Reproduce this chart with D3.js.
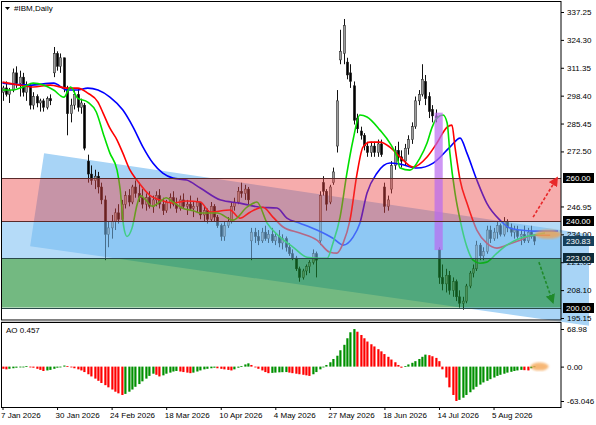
<!DOCTYPE html>
<meta charset="utf-8">
<script src="https://cdnjs.cloudflare.com/ajax/libs/d3/7.8.5/d3.min.js"></script>
<style>
  body { margin: 0; background: #fff; }
  text { font-family: "Liberation Sans", Arial, sans-serif; font-size: 8px; fill: #000; }
</style>
<div id="chart"></div>
<script>
// ---- data (bar index = trading day from 7 Jan 2026) ----
var open = [300,302,299,301,309,304,307,300,303,294, 298,295,296,293,297,309,318,312,316,302,
  290,294,299,293,294,268,262,259,261,256, 250,234,237,240,244,241,248,252,249,256,
  253,251,248,251,247,250,252,248,245,249, 251,248,246,250,247,248,246,247,249,243,
  245,241,247,242,238,233,238,240,247,249, 254,253,255,231,235,233,231,235,232,234,
  231,233,230,232,228,225,223,218,214,217, 219,221,225,231,258,254,249,258,275,315,
  318,314,309,303,288,282,280,275,272,275, 272,276,256,247,255,266,273,270,268,274,
  278,284,296,299,305,298,292,289,227,214, 211,215,208,212,205,202,203,210,216,218,
  229,224,226,236,232,235,238,234,240,237, 235,236,233,234,231,235,233];
var high = [303,305,302,311,312,310,309,305,304,300, 299,297,297,298,299,321,319,318,316,303,
  297,301,302,297,295,271,266,264,263,258, 252,240,243,246,248,250,254,255,257,259,
  258,255,253,254,252,254,255,251,250,253, 254,251,252,253,250,252,249,251,249,247,
  246,249,248,243,239,240,242,249,251,256, 258,257,256,237,237,236,237,238,236,237,
  235,236,234,233,230,227,224,219,218,220, 222,227,226,254,261,255,257,265,301,329,
  334,316,313,305,290,284,281,277,277,277, 278,278,258,252,268,275,277,273,276,280,
  286,298,301,313,308,300,294,292,228,220, 218,217,214,213,208,205,211,217,220,231,
  230,228,238,238,237,240,239,242,241,239, 238,238,236,238,237,238,234];
var low = [296,298,295,300,302,298,298,296,292,292, 293,291,291,292,294,307,310,309,300,280,
  286,292,291,290,273,258,257,255,253,248, 222,228,232,236,239,240,246,247,248,251,
  249,246,245,246,244,247,246,243,244,246, 247,244,245,246,243,245,242,244,241,240,
  239,240,240,237,231,231,237,239,245,248, 251,250,248,222,230,229,230,231,230,230,
  229,228,227,226,224,222,217,212,213,215, 216,220,214,229,252,245,248,257,272,313,
  313,306,302,285,281,278,273,270,270,270, 270,270,244,245,253,264,268,265,266,271,
  276,283,294,298,294,288,286,286,211,208, 207,206,205,203,200,199,202,209,214,217,
  222,222,225,230,231,232,233,233,235,233, 232,232,229,230,230,232,229];
var close = [302,299,301,309,304,307,300,303,294,298, 295,296,293,297,296,318,312,316,302,290,
  294,299,293,295,274,262,259,261,256,250, 234,237,240,244,241,248,252,249,256,253,
  251,248,251,247,250,252,248,245,249,251, 248,246,250,247,248,246,247,249,243,245,
  241,247,242,238,233,238,240,247,249,254, 253,255,250,235,233,231,235,232,234,231,
  233,230,232,228,225,223,218,214,217,219, 221,225,222,252,254,248,256,263,296,319,
  331,308,305,287,283,280,275,272,275,272, 276,271,247,250,266,273,270,268,274,278,
  284,296,299,306,297,291,289,288,214,211, 215,208,212,205,202,203,210,216,218,229,
  224,226,236,232,235,238,234,240,237,235, 236,233,234,231,235,233,230.83];

// Awesome Oscillator, one value per bar
var ao = [-4,-5,-4,-3,-2,-1,0,1,0,-2, -4,-6,-8,-7,-6,-4,-2,0,2,1,
  -1,-3,-5,-7,-10,-14,-18,-22,-26,-30, -34,-38,-42,-46,-49,-52,-50,-46,-42,-37,
  -32,-27,-22,-17,-13,-15,-18,-16,-13,-11, -9,-8,-9,-10,-11,-12,-11,-9,-7,-5,
  -4,-3,-2,-3,-4,-5,-6,-7,-5,-2, 1,4,6,3,-1,-4,-7,-10,-12,-11.5,
  -11,-10.5,-10.2,-10,-11,-12,-13,-14,-15,-16, -17,-14,-10,-5,-1,3,8,14,20,30,
  40,52,63,68.9,64,58,52,46,41,37, 32,28,23,18,13,8,3,-2,1,4,
  7,10,14,18,22,21,19,16,10,-5, -20,-38,-52,-63,-61,-57,-52,-47,-42,-37,
  -33,-29,-26,-23,-20,-17,-15,-13,-11,-9.5, -8,-7,-6,-6.5,-7,-3,0.457];

// Alligator lines as [bar index, price]
var jaw = [[0,304.2],[8,303.3],[15,304.2],[19,301],[22,301],[25,301.9],[28,301],[31.5,297.7],
  [35.3,291.7],[38.3,283.8],[41.2,274.5],[44.1,267.1],[47,262.4],[50,260.1],[54,259.2],[58,255.5],
  [64,249.9],[69.6,248.5],[75.5,246.6],[80.5,246.2],[83.4,241.5],[87.2,239.2],[92.2,236],[96.9,232.2],
  [99.9,229],[102.8,232.7],[104.8,239.2],[106.9,253.2],[109.8,262.4],[113.6,267.1],[116.6,266.6],
  [121.6,264.8],[126.3,267.1],[131.2,274.5],[134.2,278.7],[136.2,271.7],[139.1,259.2],[142,248.5],
  [145.9,240.6],[148.8,236.9],[151.8,236],[155.6,235.5],[160.6,235.5],[162.9,235.5]];
var teeth = [[0,304.7],[5,303.3],[9,302.4],[14,303.3],[19,301.9],[22,301.9],[25,299.6],[28,295.4],
  [29.5,290.3],[31.5,283.3],[33.6,277.8],[35.3,271.7],[37.4,263.8],[39.4,259.2],[43.3,252],[46.2,249.9],
  [50,248.5],[54,249.5],[58,249],[61,244.3],[66.7,245.3],[69.6,241.5],[72.6,244.3],[76.4,246.6],
  [79.3,242],[82.3,237.4],[87.2,234.6],[92.2,231.3],[96,225.7],[98.1,225.3],[99.9,229.9],[101.9,240.6],
  [104,262.4],[105.7,274.5],[107.8,276.8],[110.7,276.8],[113.6,274.5],[116.6,269.9],[120.4,265.2],
  [124.5,269.9],[127.4,276.4],[130.4,283.8],[131.8,284.7],[132.7,274.5],[134.2,259.2],[136.2,248.5],
  [139.1,236],[142,229.9],[145,227.6],[147.9,229],[151.8,231.3],[155.6,233.6],[160.6,233.6]];
var lips = [[0,301],[3,301],[6,302.4],[9,304.2],[12,303.3],[15,301],[18,297.7],[20,302.4],[22,297.3],
  [25,295.4],[27.5,290.8],[29.5,281],[31.5,271.7],[33.6,263.8],[34.5,255],[35.5,238],[36.5,233],
  [38,237],[39.5,248],[40.5,252],[42,250],[44,247],[46,249],[48,251],[50,249],[53,246],[56,245],
  [58,243.9],[63,243.9],[67.6,240.6],[71.7,246.6],[74.6,249],[77.6,239.2],[81.4,232.7],[85.2,228.1],
  [89.3,223.4],[93.1,222.9],[95.2,222.9],[96.9,229.9],[99,242],[101,262.4],[102.8,277.8],[104.8,289.4],
  [106.9,288.5],[110.7,282.4],[113.6,276.4],[115.7,269.9],[116.6,264.8],[119.5,263.8],[122.4,269.4],
  [124.5,276.4],[126,283.8],[127.4,288],[129.2,289.4],[130.4,285.7],[131.2,271.7],[132.7,253.2],
  [134.2,240.6],[136.2,228.1],[138,222],[140,220.6],[142,221.1],[145,225.3],[147.9,229],[151.8,232.2],
  [155.6,233.6],[159.1,234.6]];

var priceTicks = [337.25, 324.30, 311.35, 298.40, 285.45, 272.50, 246.95, 234.00, 221.05, 208.10, 195.15];
var aoTicks = [68.98, 0, -63.046];
var aoTickLabels = ["68.98", "0.00", "-63.046"];
var timeLabels = ["7 Jan 2026", "30 Jan 2026", "24 Feb 2026", "18 Mar 2026", "10 Apr 2026",
  "4 May 2026", "27 May 2026", "18 Jun 2026", "14 Jul 2026", "5 Aug 2026"];
var timeIdx = [0, 16, 32, 48, 64, 80, 96, 112, 128, 144];

// levels and drawings
var levels = [260, 240, 223, 200];
var channel = [[12.2, 271.7], [172, 234], [172, 191.5], [8.1, 228.5]];
var gap = {i0: 126.7, i1: 129.1, top: 290.5, bottom: 226.7};
var upArrow = [[155.6, 242], [162.6, 260.1]];
var downArrow = [[157.3, 221.1], [161.4, 202.5]];

// ---- layout ----
var W = 596, H = 425;
var left = 2, right = 561, mainTop = 2, mainBottom = 320, aoTop = 322, aoBottom = 407;

var svg = d3.select("#chart").append("svg")
  .attr("width", W).attr("height", H);

var x = d3.scaleLinear().domain([0, 156]).range([2.5, 534.46]);
var y = d3.scaleLinear().domain([195.15, 337.25]).range([318, 12]);
var ya = d3.scaleLinear().domain([-63.046, 68.98]).range([401, 329]);

var defs = svg.append("defs");
defs.append("clipPath").attr("id", "clipMain").append("rect")
  .attr("x", left).attr("y", mainTop).attr("width", right - left).attr("height", mainBottom - mainTop);
defs.append("clipPath").attr("id", "clipAo").append("rect")
  .attr("x", left).attr("y", aoTop).attr("width", right - left).attr("height", aoBottom - aoTop);
defs.append("filter").attr("id", "blur").append("feGaussianBlur").attr("stdDeviation", 1.2);

var bars = d3.range(open.length);

// diagonal channel, lies under everything else and runs past the scale as in the picture
var poly = d3.line().x(function(d) { return x(d[0]); }).y(function(d) { return y(d[1]); }).curve(d3.curveLinearClosed);
svg.append("path").datum(channel).attr("d", poly)
  .attr("fill", "rgb(168,212,246)");

var main = svg.append("g").attr("clip-path", "url(#clipMain)");

// candles
main.append("g").selectAll("line").data(bars).enter().append("line")
  .attr("x1", function(i) { return Math.round(x(i)) + 0.5; })
  .attr("x2", function(i) { return Math.round(x(i)) + 0.5; })
  .attr("y1", function(i) { return y(high[i]); })
  .attr("y2", function(i) { return y(low[i]); })
  .attr("stroke", "#111").attr("stroke-width", 1);
main.append("g").selectAll("rect").data(bars).enter().append("rect")
  .attr("x", function(i) { return Math.round(x(i)) - 0.7; })
  .attr("width", 2.4)
  .attr("y", function(i) { return y(Math.max(open[i], close[i])); })
  .attr("height", function(i) { return Math.max(1, Math.abs(y(open[i]) - y(close[i]))); })
  .attr("fill", function(i) { return close[i] >= open[i] ? "#9c9c9c" : "#000"; })
  .attr("stroke", "#222").attr("stroke-width", 0.5);

// alligator
var line = d3.line()
  .x(function(d) { return x(d[0]); })
  .y(function(d) { return y(d[1]); })
  .curve(d3.curveMonotoneX);
main.append("path").datum(jaw).attr("d", line).attr("fill", "none").attr("stroke", "#0000ff").attr("stroke-width", 1.6);
main.append("path").datum(teeth).attr("d", line).attr("fill", "none").attr("stroke", "#ff0000").attr("stroke-width", 1.6);
main.append("path").datum(lips).attr("d", line).attr("fill", "none").attr("stroke", "#00e000").attr("stroke-width", 1.6);

// zones
main.append("rect").attr("x", left).attr("width", right - left)
  .attr("y", y(levels[0])).attr("height", y(levels[1]) - y(levels[0]))
  .attr("fill", "rgb(235,70,70)").attr("opacity", 0.45);
main.append("rect").attr("x", left).attr("width", right - left)
  .attr("y", y(levels[1])).attr("height", y(levels[2]) - y(levels[1]))
  .attr("fill", "rgb(120,190,242)").attr("opacity", 0.55);
main.append("rect").attr("x", left).attr("width", right - left)
  .attr("y", y(levels[2])).attr("height", y(levels[3]) - y(levels[2]))
  .attr("fill", "rgb(22,138,45)").attr("opacity", 0.6);

// gap highlight
main.append("rect").attr("x", x(gap.i0)).attr("width", x(gap.i1) - x(gap.i0))
  .attr("y", y(gap.top)).attr("height", y(gap.bottom) - y(gap.top))
  .attr("fill", "rgb(185,105,240)").attr("opacity", 0.7);

// level lines
main.selectAll(".lvl").data(levels).enter().append("line")
  .attr("x1", left).attr("x2", right)
  .attr("y1", function(d) { return Math.round(y(d)) + 0.5; })
  .attr("y2", function(d) { return Math.round(y(d)) + 0.5; })
  .attr("stroke", function(d, i) { return i < 2 ? "#5a2a2a" : "#2a4a4a"; })
  .attr("stroke-width", 1);

// ---- AO ----
var aoG = svg.append("g").attr("clip-path", "url(#clipAo)");
aoG.append("rect").attr("x", left).attr("y", aoTop).attr("width", right - left).attr("height", aoBottom - aoTop).attr("fill", "#fff");
aoG.selectAll(".bar").data(bars).enter().append("rect")
  .attr("x", function(i) { return Math.round(x(i)) - 0.7; })
  .attr("width", 2.2)
  .attr("y", function(i) { return Math.min(ya(ao[i]), ya(0)); })
  .attr("height", function(i) { return Math.max(0.8, Math.abs(ya(ao[i]) - ya(0))); })
  .attr("fill", function(i) { return i > 0 && ao[i] > ao[i - 1] ? "#009000" : "#ff0000"; });

// ---- axes ----
var yAxis = svg.append("g").attr("transform", "translate(" + right + ",0)")
  .call(d3.axisRight(y).tickValues(priceTicks).tickFormat(d3.format(".2f")).tickSize(3).tickPadding(3));
var aoAxis = svg.append("g").attr("transform", "translate(" + right + ",0)")
  .call(d3.axisRight(ya).tickValues(aoTicks).tickFormat(function(d, i) { return aoTickLabels[i]; }).tickSize(3).tickPadding(3));
var xAxis = svg.append("g").attr("transform", "translate(0," + aoBottom + ")")
  .call(d3.axisBottom(x).tickValues(timeIdx).tickFormat(function(d, i) { return timeLabels[i]; }).tickSize(3).tickPadding(2));
[yAxis, aoAxis, xAxis].forEach(function(a) {
  a.select(".domain").remove();
  a.selectAll("text").attr("font-family", "Liberation Sans, Arial, sans-serif").attr("font-size", 8);
  a.selectAll("line").attr("stroke", "#000");
});
xAxis.selectAll("text").attr("text-anchor", "start").attr("dx", -2);

// frames
svg.append("rect").attr("x", 1.5).attr("y", 1.5).attr("width", right - 1.5).attr("height", mainBottom - 1.5)
  .attr("fill", "none").attr("stroke", "#000");
svg.append("rect").attr("x", 1.5).attr("y", aoTop + 0.5).attr("width", right - 1.5).attr("height", aoBottom - aoTop)
  .attr("fill", "none").attr("stroke", "#000");
svg.append("line").attr("x1", 1).attr("x2", right).attr("y1", 321).attr("y2", 321).attr("stroke", "#999").attr("stroke-width", 1);

// arrows
defs.append("marker").attr("id", "ahRed").attr("viewBox", "0 0 10 10").attr("refX", 8).attr("refY", 5)
  .attr("markerWidth", 6).attr("markerHeight", 6).attr("orient", "auto")
  .append("path").attr("d", "M0,0L10,5L0,10z").attr("fill", "#e8282a");
defs.append("marker").attr("id", "ahGreen").attr("viewBox", "0 0 10 10").attr("refX", 8).attr("refY", 5)
  .attr("markerWidth", 6).attr("markerHeight", 6).attr("orient", "auto")
  .append("path").attr("d", "M0,0L10,5L0,10z").attr("fill", "#1f8a2a");
var aline = d3.line().x(function(d) { return x(d[0]); }).y(function(d) { return y(d[1]); });
svg.append("path").datum(upArrow).attr("d", aline).attr("stroke", "#e8282a").attr("stroke-width", 1.6)
  .attr("stroke-dasharray", "3,2").attr("fill", "none").attr("marker-end", "url(#ahRed)");
svg.append("path").datum(downArrow).attr("d", aline).attr("stroke", "#1f8a2a").attr("stroke-width", 1.6)
  .attr("stroke-dasharray", "3,2").attr("fill", "none").attr("marker-end", "url(#ahGreen)");

// orange highlights at the line ends
svg.append("ellipse").attr("cx", x(160)).attr("cy", y(234)).attr("rx", 13).attr("ry", 4.5)
  .attr("fill", "#f4a04a").attr("opacity", 0.75).attr("filter", "url(#blur)");
svg.append("ellipse").attr("cx", x(157.5)).attr("cy", ya(0)).attr("rx", 9).attr("ry", 4)
  .attr("fill", "#f4a04a").attr("opacity", 0.75).attr("filter", "url(#blur)");

// price tags
var tags = [
  {v: 260, t: "260.00", bg: "#000"},
  {v: 240, t: "240.00", bg: "#000"},
  {v: 230.83, t: "230.83", bg: "#17405c"},
  {v: 223, t: "223.00", bg: "#0e2a38"},
  {v: 200, t: "200.00", bg: "#000"}
];
var tg = svg.append("g").selectAll("g").data(tags).enter().append("g")
  .attr("transform", function(d) { return "translate(" + (right + 2) + "," + Math.round(y(d.v)) + ")"; });
tg.append("rect").attr("x", 0).attr("y", -5).attr("width", 31).attr("height", 10).attr("fill", function(d) { return d.bg; });
tg.append("text").attr("x", 3).attr("y", 3).style("fill", "#fff").text(function(d) { return d.t; });

// titles
svg.append("path").attr("d", "M5,7L10,7L7.5,10z").attr("fill", "#000");
svg.append("text").attr("x", 14).attr("y", 11).text("#IBM,Daily");
svg.append("text").attr("x", 6).attr("y", 333).text("AO 0.457");
</script>
